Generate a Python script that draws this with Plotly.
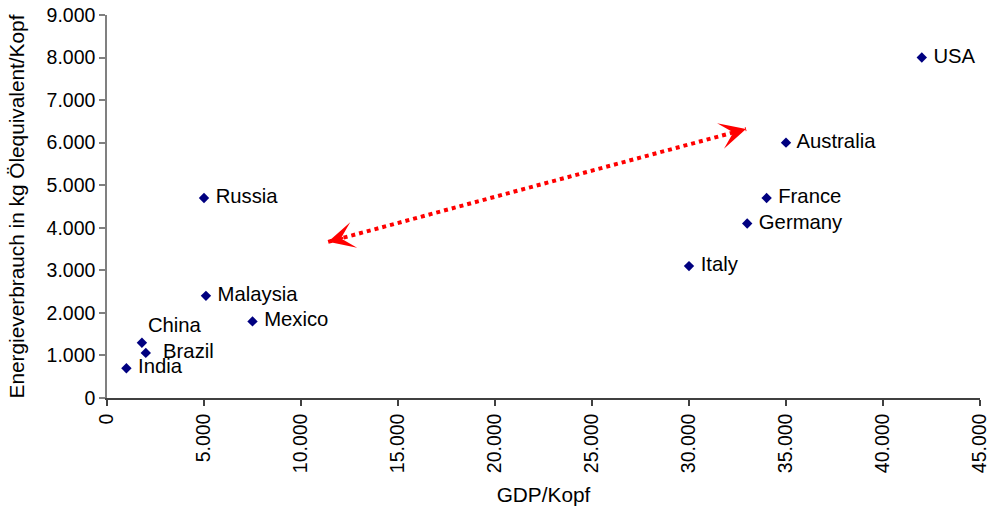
import plotly.graph_objects as go

# Energy use vs. GDP per capita
countries = ["India", "China", "Brazil", "Malaysia", "Mexico", "Russia",
             "Italy", "Germany", "France", "Australia", "USA"]
gdp_per_capita = [1000, 1800, 2000, 5100, 7500, 5000,
                  30000, 33000, 34000, 35000, 42000]
energy_per_capita = [700, 1300, 1060, 2400, 1800, 4700,
                     3100, 4100, 4700, 6000, 8000]
label_positions = ["middle right", "top right", "middle right", "middle right",
                   "middle right", "middle right", "middle right", "middle right",
                   "middle right", "middle right", "middle right"]
label_pad = [" ", "", "  ", " ", " ", " ", " ", " ", " ", " ", " "]

# Double-headed trend arrow (data coordinates)
arrow_x = [11400, 32940]
arrow_y = [3670, 6320]

x_ticks = list(range(0, 45001, 5000))
y_ticks = list(range(0, 9001, 1000))

FONT = "Liberation Sans, Arial, sans-serif"
tick_size = 19.5
label_size = 20.3
title_size = 20.8

fig = go.Figure()

fig.add_trace(go.Scatter(
    x=arrow_x, y=arrow_y, mode="lines",
    line=dict(color="#ff0000", width=4, dash="dot"),
    hoverinfo="skip", showlegend=False,
))

fig.add_trace(go.Scatter(
    x=gdp_per_capita, y=energy_per_capita,
    mode="markers+text",
    text=[p + c for p, c in zip(label_pad, countries)],
    textposition=label_positions,
    textfont=dict(family=FONT, size=label_size, color="#000000"),
    marker=dict(symbol="diamond", size=8, color="#000080"),
    showlegend=False,
))

# arrowheads at both ends of the dotted line
for i, j in ((0, 1), (1, 0)):
    tx, ty = arrow_x[i], arrow_y[i]
    bx = tx + (arrow_x[j] - tx) * 0.04
    by = ty + (arrow_y[j] - ty) * 0.04
    fig.add_annotation(
        x=tx, y=ty, ax=bx, ay=by, xref="x", yref="y", axref="x", ayref="y",
        text="", showarrow=True, arrowhead=3, arrowsize=2.2, arrowwidth=2,
        arrowcolor="#ff0000", standoff=0, startstandoff=0,
    )

axis_common = dict(
    showgrid=False, zeroline=False, showline=True, linewidth=1.5,
    ticks="outside", ticklen=6, tickwidth=1.5, automargin=False,
    tickfont=dict(family=FONT, size=tick_size, color="#000000"),
    tickformat=",d",
)

fig.update_xaxes(
    range=[0, 45000], tickvals=x_ticks, tickangle=-90,
    linecolor="#404040", tickcolor="#404040",
    title=dict(text="GDP/Kopf", font=dict(family=FONT, size=title_size, color="#000000"),
               standoff=15),
    **axis_common,
)
fig.update_yaxes(
    range=[0, 9000], tickvals=y_ticks,
    linecolor="#808080", tickcolor="#808080",
    title=dict(text="Energieverbrauch in kg Ölequivalent/Kopf",
               font=dict(family=FONT, size=title_size, color="#000000"), standoff=16),
    **axis_common,
)

fig.update_layout(
    width=993, height=506,
    margin=dict(l=107, r=13, t=15, b=108),
    paper_bgcolor="#ffffff", plot_bgcolor="#ffffff",
    separators=",.",
    font=dict(family=FONT, size=tick_size, color="#000000"),
)

fig.write_html("out.html")
